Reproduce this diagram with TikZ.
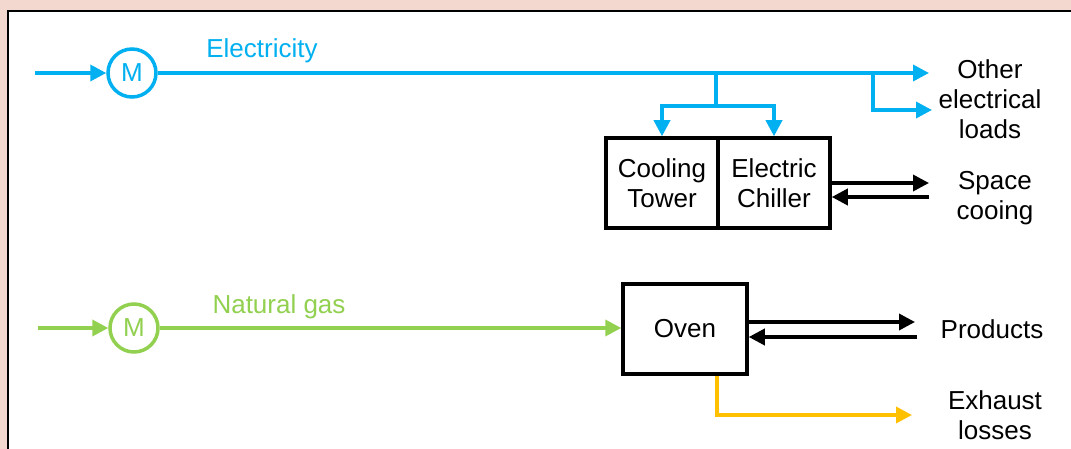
\documentclass[tikz,border=0pt]{standalone}
\usepackage{fontspec}
\setmainfont{Liberation Sans}
\usetikzlibrary{arrows.meta}
\definecolor{elec}{HTML}{00B0F0}
\definecolor{gas}{HTML}{92D050}
\definecolor{exh}{HTML}{FFC000}
\definecolor{bgpink}{HTML}{F2D8CE}
\begin{document}
\begin{tikzpicture}[x=1pt,y=-1pt,
  txt/.style={font=\fontsize{26}{30}\selectfont, inner sep=0pt, align=center},
  meter/.style={circle, draw, line width=3.5pt, minimum size=48pt, inner sep=0pt, font=\fontsize{26}{30}\selectfont},
  unit/.style={rectangle, draw=black, line width=3.5pt, inner sep=0pt, align=center, font=\fontsize{26}{30}\selectfont},
  flow/.style={line width=3.5pt, -{Triangle[length=16pt,width=16pt]}},
  line/.style={line width=3.5pt}
]
\useasboundingbox (0,0) rectangle (1071,449);
\fill[bgpink] (0,0) rectangle (1071,449);
\draw[line width=2pt, fill=white] (8,11) rectangle (1090,470);

% Electricity
\node[meter, draw=elec, text=elec] (mE) at (132,73) {M};
\node[txt, text=elec, anchor=base] (lE) at (262,58) {Electricity};
\coordinate (eIn) at (35,73);
\coordinate (eOut) at (929,73);
\coordinate (eOut2) at (932,110);
\coordinate (bA) at (716,73);
\coordinate (bB) at (716,106);
\coordinate (bC) at (873,73);
\node[unit, minimum width=112pt, minimum height=90pt] (ct) at (662,183) {Cooling\\Tower};
\node[unit, minimum width=112pt, minimum height=90pt] (ec) at (774,183) {Electric\\Chiller};
\draw[flow, elec] (eIn) -- (mE);
\draw[flow, elec] (mE) -- (eOut);
\draw[line, elec] (bA) -- (bB);
\draw[flow, elec] (bB) -| (ct.north);
\draw[flow, elec] (bB) -| (ec.north);
\draw[flow, elec] (bC) |- (eOut2);
\node[txt] (other) at (990,99) {Other\\electrical\\loads};
\coordinate (scO) at (929,183);
\coordinate (scI) at (929,197);
\draw[flow, black] (ec.east) -- (scO);
\draw[flow, black] (scI) -- (ec.east |- scI);
\node[txt] (space) at (995,198) {Space\\cooing};

% Natural gas
\node[meter, draw=gas, text=gas] (mG) at (134,328) {M};
\node[txt, text=gas, anchor=base] (lG) at (279,313) {Natural gas};
\coordinate (gIn) at (38,328);
\node[unit, minimum width=124pt, minimum height=90pt] (oven) at (685,329) {Oven};
\draw[flow, gas] (gIn) -- (mG);
\draw[flow, gas] (mG) -- (mG -| oven.west);
\coordinate (pO) at (915,322);
\coordinate (pI) at (917,337);
\draw[flow, black] (oven.east |- pO) -- (pO);
\draw[flow, black] (pI) -- (oven.east |- pI);
\node[txt] (prod) at (992,329) {Products};
\coordinate (xB) at (717,415);
\coordinate (xO) at (912,415);
\draw[flow, exh] (oven.south -| xB) -- (xB) -- (xO);
\node[txt] (exhaust) at (995,415) {Exhaust\\losses};
\end{tikzpicture}
\end{document}
